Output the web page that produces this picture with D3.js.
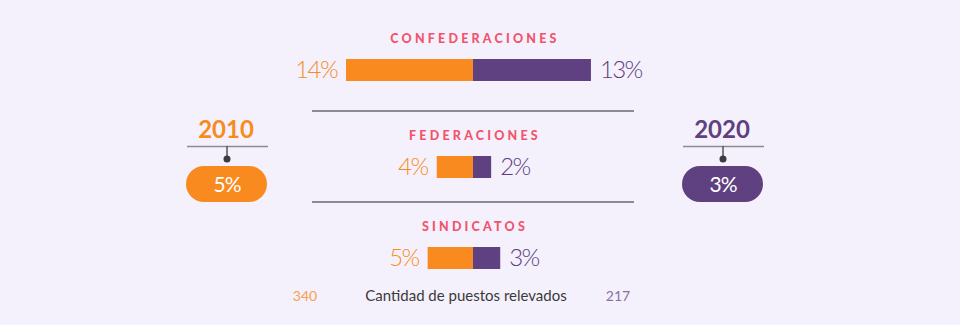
<!DOCTYPE html>
<html>
<head>
<meta charset="utf-8">
<script src="https://cdn.jsdelivr.net/npm/d3@7/dist/d3.min.js"></script>
<style>
  html, body { margin: 0; padding: 0; background: #f4f1fc; }
  svg { display: block; }
</style>
</head>
<body>
<div id="chart"></div>
<script>
// ---- data ----
const categories = ["CONFEDERACIONES", "FEDERACIONES", "SINDICATOS"];
const values2010 = [14, 4, 5];
const values2020 = [13, 2, 3];
const years = ["2010", "2020"];
const totals = [5, 3];
const counts = [340, 217];
const countLabel = "Cantidad de puestos relevados";

// ---- layout ----
const W = 960, H = 325;
const ORANGE = "#f98a20", PURPLE = "#5f4080";
const ORANGE_TXT = "#f78c1c", PURPLE_TXT = "#5c3e80";
const RED = "#f2546c", GRAY = "#8d8a92";
const centerX = 473;

const svg = d3.select("#chart").append("svg")
  .attr("width", W).attr("height", H);
svg.append("rect").attr("width", W).attr("height", H).attr("fill", "#f4f1fc");

const x = d3.scaleLinear().domain([0, 14]).range([0, 127]);
const y = d3.scaleOrdinal().domain(categories).range([59, 156, 247]);
const barH = 22;

const rows = categories.map((c, i) => ({ cat: c, a: values2010[i], b: values2020[i], i }));

const g = svg.append("g");

// separators
rows.slice(1).forEach(r => {
  g.append("line")
    .attr("x1", 312).attr("x2", 634)
    .attr("y1", y(r.cat) - 45).attr("y2", y(r.cat) - 45)
    .attr("stroke", GRAY).attr("stroke-width", 2);
});

// category titles
g.selectAll("text.cat").data(rows).join("text")
  .attr("class", "cat")
  .attr("x", centerX + 2).attr("y", d => y(d.cat) - 16)
  .attr("text-anchor", "middle")
  .attr("font-family", "Lato, sans-serif")
  .attr("font-weight", 900)
  .attr("font-size", 12.5)
  .attr("letter-spacing", "3.2px")
  .attr("fill", RED)
  .text(d => d.cat);

// bars
g.selectAll("rect.a").data(rows).join("rect")
  .attr("class", "a")
  .attr("x", d => centerX - x(d.a)).attr("y", d => y(d.cat))
  .attr("width", d => x(d.a)).attr("height", barH)
  .attr("fill", ORANGE);
g.selectAll("rect.b").data(rows).join("rect")
  .attr("class", "b")
  .attr("x", centerX).attr("y", d => y(d.cat))
  .attr("width", d => x(d.b)).attr("height", barH)
  .attr("fill", PURPLE);

// value labels
g.selectAll("text.va").data(rows).join("text")
  .attr("class", "va")
  .attr("x", d => centerX - x(d.a) - 9).attr("y", d => y(d.cat) + 19)
  .attr("text-anchor", "end")
  .attr("font-family", "Lato, sans-serif").attr("font-weight", 300)
  .attr("font-size", 24).attr("letter-spacing", "-1.6px")
  .attr("fill", ORANGE_TXT)
  .text(d => d.a + "%");
g.selectAll("text.vb").data(rows).join("text")
  .attr("class", "vb")
  .attr("x", d => centerX + x(d.b) + 9).attr("y", d => y(d.cat) + 19)
  .attr("text-anchor", "start")
  .attr("font-family", "Lato, sans-serif").attr("font-weight", 300)
  .attr("font-size", 24).attr("letter-spacing", "-1.6px")
  .attr("fill", PURPLE_TXT)
  .text(d => d.b + "%");

// side panels
const panelX = d3.scaleOrdinal().domain(years).range([227, 723]);
const panelColor = d3.scaleOrdinal().domain(years).range([ORANGE, PURPLE]);
years.forEach((yr, i) => {
  const cx = panelX(yr);
  const p = svg.append("g");
  p.append("text")
    .attr("x", cx - 1).attr("y", 138)
    .attr("text-anchor", "middle")
    .attr("font-family", "Lato, sans-serif").attr("font-weight", 700)
    .attr("font-size", 24)
    .attr("fill", panelColor(yr))
    .text(yr);
  p.append("line")
    .attr("x1", cx - 40).attr("x2", cx + 41)
    .attr("y1", 146.5).attr("y2", 146.5)
    .attr("stroke", GRAY).attr("stroke-width", 1.5);
  p.append("line")
    .attr("x1", cx).attr("x2", cx)
    .attr("y1", 146).attr("y2", 158)
    .attr("stroke", "#555").attr("stroke-width", 1.5);
  p.append("circle")
    .attr("cx", cx).attr("cy", 159).attr("r", 3.5)
    .attr("fill", "#3d3a42");
  p.append("rect")
    .attr("x", cx - 41).attr("y", 166)
    .attr("width", 81).attr("height", 36)
    .attr("rx", 18).attr("ry", 18)
    .attr("fill", panelColor(yr));
  p.append("text")
    .attr("x", cx).attr("y", 191.5)
    .attr("text-anchor", "middle")
    .attr("font-family", "Lato, sans-serif").attr("font-weight", 400)
    .attr("font-size", 21).attr("letter-spacing", "-1px")
    .attr("fill", "#fff")
    .text(totals[i] + "%");
});

// bottom counts
svg.append("text")
  .attr("x", 305).attr("y", 301).attr("text-anchor", "middle")
  .attr("font-family", "Lato, sans-serif").attr("font-size", 14)
  .attr("fill", "#f8a050").text(counts[0]);
svg.append("text")
  .attr("x", 466).attr("y", 301).attr("text-anchor", "middle")
  .attr("font-family", "Lato, sans-serif").attr("font-size", 15)
  .attr("fill", "#3a3a3a").text(countLabel);
svg.append("text")
  .attr("x", 618).attr("y", 301).attr("text-anchor", "middle")
  .attr("font-family", "Lato, sans-serif").attr("font-size", 14)
  .attr("fill", "#8a70a8").text(counts[1]);
</script>
</body>
</html>
